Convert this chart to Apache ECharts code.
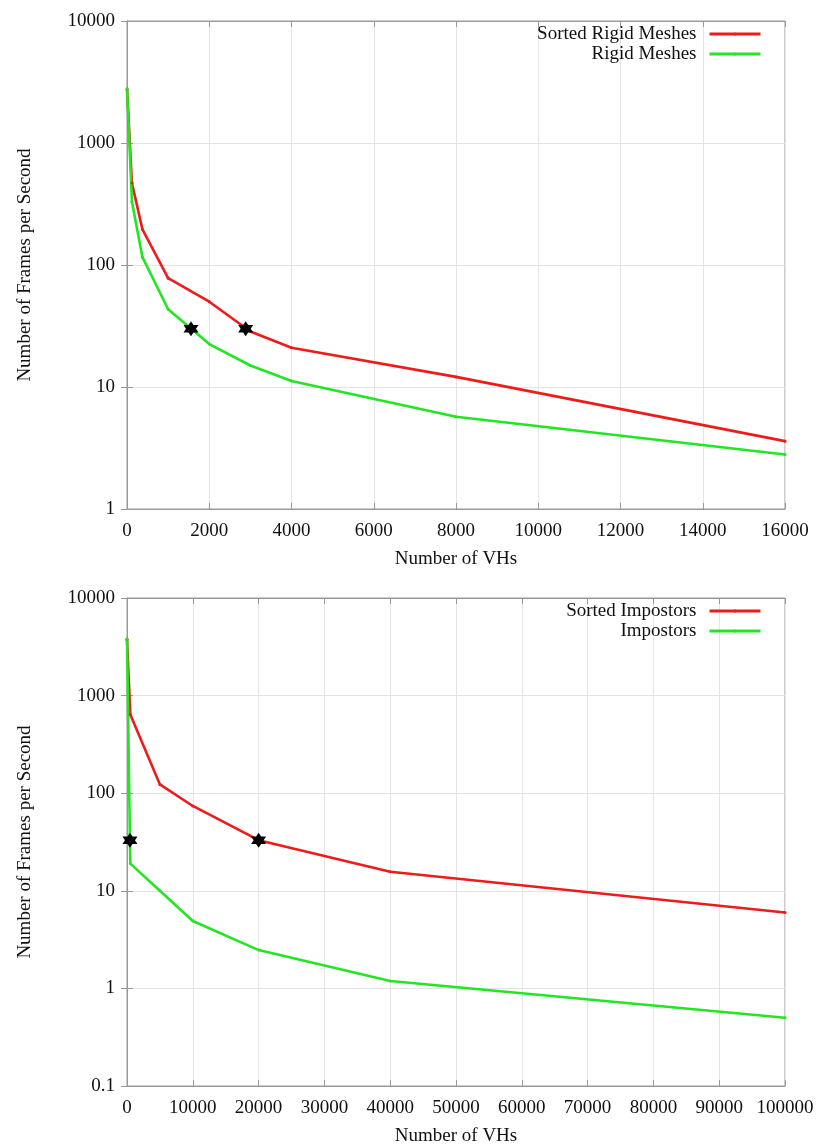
<!DOCTYPE html>
<html><head><meta charset="utf-8">
<script src="https://cdn.jsdelivr.net/npm/echarts@6/dist/echarts.min.js"></script>
<style>html,body{margin:0;padding:0;background:#fff}#c{width:819px;height:1148px}</style>
</head><body><div id="c"></div>
<script>
// ---- Top chart data (Rigid Meshes) ----
const topX = [1, 120, 375, 1000, 2000, 3000, 4000, 8000, 16000];
const sortedRigid = [2770, 470, 196, 78, 50, 28.5, 21, 12.1, 3.6];
const rigidX = [1, 120, 375, 1000, 2000, 3000, 4000, 8000, 16000];
const rigid = [2770, 330, 116, 43.4, 22.5, 15, 11.2, 5.7, 2.8];
const topStars = [[2886, 30], [1556, 30]];
const topXTicks = [0, 16000, 2000];

// ---- Bottom chart data (Impostors) ----
const botX = [1, 500, 5000, 10000, 20000, 40000, 100000];
const sortedImp = [3780, 640, 123, 74, 33, 15.7, 6];
const impX = [1, 500, 5000, 10000, 20000, 40000, 100000];
const imp = [3780, 19, 10, 4.9, 2.47, 1.19, 0.5];
const botStars = [[20000, 33], [450, 33]];
const botXTicks = [0, 100000, 10000];

const RED = '#ee1b1b', GREEN = '#22e622';
const FONT = 'Liberation Serif';
const zip = (xs, ys) => xs.map((x, i) => [x, ys[i]]);
const STAR = 'path://M0,-10 L2.9,-5 L8.66,-5 L5.8,0 L8.66,5 L2.9,5 L0,10 L-2.9,5 L-8.66,5 L-5.8,0 L-8.66,-5 L-2.9,-5 Z';

function xAxes(g, t) {
  return [{
    type: 'value', gridIndex: g, min: t[0], max: t[1], interval: t[2],
    name: 'Number of VHs', nameLocation: 'middle', nameGap: 41,
    nameTextStyle: { fontFamily: FONT, fontSize: 19, color: '#111' },
    axisLine: { lineStyle: { color: '#999' } },
    axisTick: { inside: true, length: 6, lineStyle: { color: '#999' } },
    axisLabel: { fontFamily: FONT, fontSize: 19, color: '#111', margin: 13,
      formatter: v => String(v) },
    splitLine: { show: true, lineStyle: { color: '#e4e4e4', width: 1 } }
  }, {
    type: 'value', gridIndex: g, min: t[0], max: t[1], interval: t[2], position: 'top',
    axisLine: { lineStyle: { color: '#999' } },
    axisTick: { inside: true, length: 6, lineStyle: { color: '#999' } },
    axisLabel: { show: false }, splitLine: { show: false }
  }];
}
function yAxes(g, min, max) {
  return [{
    type: 'log', logBase: 10, gridIndex: g, min: min, max: max,
    name: 'Number of Frames per Second', nameLocation: 'middle', nameGap: 92,
    nameTextStyle: { fontFamily: FONT, fontSize: 19, color: '#111' },
    axisLine: { show: true, lineStyle: { color: '#999' } },
    axisTick: { inside: true, length: 6, lineStyle: { color: '#999' } },
    axisLabel: { fontFamily: FONT, fontSize: 19, color: '#111', margin: 12,
      formatter: v => String(+v.toPrecision(6)) },
    splitLine: { show: true, lineStyle: { color: '#e4e4e4', width: 1 } }
  }, {
    type: 'log', logBase: 10, gridIndex: g, min: min, max: max, position: 'right',
    axisLine: { show: true, lineStyle: { color: '#999' } },
    axisTick: { inside: true, length: 6, lineStyle: { color: '#999' } },
    axisLabel: { show: false }, splitLine: { show: false }
  }];
}
function line(name, xi, yi, data, color) {
  return { name: name, type: 'line', xAxisIndex: xi, yAxisIndex: yi, data: data,
    symbol: 'circle', symbolSize: 3, showSymbol: true, color: color,
    itemStyle: { color: color }, lineStyle: { color: color, width: 2.6 }, z: 3 };
}
function stars(xi, yi, data) {
  return { type: 'scatter', xAxisIndex: xi, yAxisIndex: yi, data: data, symbol: STAR,
    symbolSize: 15, itemStyle: { color: '#000', opacity: 1 }, z: 5, silent: true,
    emphasis: { disabled: true } };
}
function legend(top, names) {
  return { data: names, orient: 'vertical', right: 52, top: top, align: 'right',
    itemWidth: 51, itemHeight: 4, itemGap: 0,
    lineStyle: { width: 3 },
    textStyle: { fontFamily: FONT, fontSize: 19, color: '#111', lineHeight: 20, padding: [0, 8, 0, 0] } };
}

const chart = echarts.init(document.getElementById('c'));
chart.setOption({
  animation: false,
  backgroundColor: '#fff',
  grid: [
    { left: 127, right: 34, top: 21, height: 488, show: true, borderColor: '#999', borderWidth: 1 },
    { left: 127, right: 34, top: 598, height: 488, show: true, borderColor: '#999', borderWidth: 1 }
  ],
  legend: [
    legend(19, ['Sorted Rigid Meshes', 'Rigid Meshes']),
    legend(596, ['Sorted Impostors', 'Impostors'])
  ],
  xAxis: xAxes(0, topXTicks).concat(xAxes(1, botXTicks)),
  yAxis: yAxes(0, 1, 10000).concat(yAxes(1, 0.1, 10000)),
  series: [
    line('Sorted Rigid Meshes', 0, 0, zip(topX, sortedRigid), RED),
    line('Rigid Meshes', 0, 0, zip(rigidX, rigid), GREEN),
    stars(0, 0, topStars),
    line('Sorted Impostors', 2, 2, zip(botX, sortedImp), RED),
    line('Impostors', 2, 2, zip(impX, imp), GREEN),
    stars(2, 2, botStars)
  ]
});
</script></body></html>
